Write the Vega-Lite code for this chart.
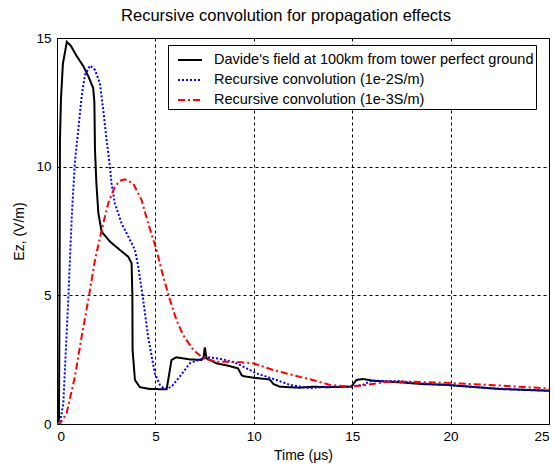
{
  "$schema": "https://vega.github.io/schema/vega-lite/v6.json",
  "width": 492,
  "height": 386,
  "autosize": {"type": "none"},
  "padding": {"left": 57, "top": 38, "right": 5, "bottom": 42},
  "background": "white",
  "title": {"text": "Recursive convolution for propagation effects", "font": "Liberation Sans", "fontSize": 16.5, "fontWeight": "normal", "color": "black", "offset": 7, "dx": -17},
  "config": {
    "view": {"stroke": "black", "strokeWidth": 1},
    "axis": {"domain": false, "ticks": false, "grid": true, "gridColor": "black", "gridDash": [3, 3], "gridOpacity": 1, "gridWidth": 1,
      "labelFont": "Liberation Sans", "labelFontSize": 13.5, "labelColor": "black", "titleFont": "Liberation Sans", "titleFontSize": 14, "titleFontWeight": "normal", "titleColor": "black"}
  },
  "datasets": {
    "curves": [
      {"s": "Davide's field at 100km from tower perfect ground", "t": 0, "v": 0},
      {"s": "Davide's field at 100km from tower perfect ground", "t": 0.1, "v": 0.2},
      {"s": "Davide's field at 100km from tower perfect ground", "t": 0.13, "v": 5},
      {"s": "Davide's field at 100km from tower perfect ground", "t": 0.15, "v": 11.0},
      {"s": "Davide's field at 100km from tower perfect ground", "t": 0.2, "v": 12.6},
      {"s": "Davide's field at 100km from tower perfect ground", "t": 0.3, "v": 14.0},
      {"s": "Davide's field at 100km from tower perfect ground", "t": 0.5, "v": 14.85},
      {"s": "Davide's field at 100km from tower perfect ground", "t": 0.7, "v": 14.7},
      {"s": "Davide's field at 100km from tower perfect ground", "t": 1.0, "v": 14.3},
      {"s": "Davide's field at 100km from tower perfect ground", "t": 1.34, "v": 13.9},
      {"s": "Davide's field at 100km from tower perfect ground", "t": 1.6, "v": 13.5},
      {"s": "Davide's field at 100km from tower perfect ground", "t": 1.84, "v": 13.05},
      {"s": "Davide's field at 100km from tower perfect ground", "t": 1.9, "v": 12.5},
      {"s": "Davide's field at 100km from tower perfect ground", "t": 1.93, "v": 10.65},
      {"s": "Davide's field at 100km from tower perfect ground", "t": 2.0, "v": 9.37},
      {"s": "Davide's field at 100km from tower perfect ground", "t": 2.1, "v": 8.2},
      {"s": "Davide's field at 100km from tower perfect ground", "t": 2.27, "v": 7.47},
      {"s": "Davide's field at 100km from tower perfect ground", "t": 2.69, "v": 7.09},
      {"s": "Davide's field at 100km from tower perfect ground", "t": 3.2, "v": 6.76},
      {"s": "Davide's field at 100km from tower perfect ground", "t": 3.62, "v": 6.5},
      {"s": "Davide's field at 100km from tower perfect ground", "t": 3.79, "v": 6.25},
      {"s": "Davide's field at 100km from tower perfect ground", "t": 3.83, "v": 5.0},
      {"s": "Davide's field at 100km from tower perfect ground", "t": 3.84, "v": 2.88},
      {"s": "Davide's field at 100km from tower perfect ground", "t": 3.96, "v": 1.71},
      {"s": "Davide's field at 100km from tower perfect ground", "t": 4.21, "v": 1.43},
      {"s": "Davide's field at 100km from tower perfect ground", "t": 4.72, "v": 1.36},
      {"s": "Davide's field at 100km from tower perfect ground", "t": 5.57, "v": 1.35},
      {"s": "Davide's field at 100km from tower perfect ground", "t": 5.65, "v": 1.71},
      {"s": "Davide's field at 100km from tower perfect ground", "t": 5.82, "v": 2.49},
      {"s": "Davide's field at 100km from tower perfect ground", "t": 6.07, "v": 2.59},
      {"s": "Davide's field at 100km from tower perfect ground", "t": 6.75, "v": 2.51},
      {"s": "Davide's field at 100km from tower perfect ground", "t": 7.34, "v": 2.49},
      {"s": "Davide's field at 100km from tower perfect ground", "t": 7.45, "v": 2.6},
      {"s": "Davide's field at 100km from tower perfect ground", "t": 7.51, "v": 2.98},
      {"s": "Davide's field at 100km from tower perfect ground", "t": 7.6, "v": 2.55},
      {"s": "Davide's field at 100km from tower perfect ground", "t": 7.77, "v": 2.49},
      {"s": "Davide's field at 100km from tower perfect ground", "t": 8.1, "v": 2.36},
      {"s": "Davide's field at 100km from tower perfect ground", "t": 8.78, "v": 2.25},
      {"s": "Davide's field at 100km from tower perfect ground", "t": 9.2, "v": 2.16},
      {"s": "Davide's field at 100km from tower perfect ground", "t": 9.38, "v": 1.9},
      {"s": "Davide's field at 100km from tower perfect ground", "t": 9.46, "v": 1.86},
      {"s": "Davide's field at 100km from tower perfect ground", "t": 9.97, "v": 1.8},
      {"s": "Davide's field at 100km from tower perfect ground", "t": 10.81, "v": 1.73},
      {"s": "Davide's field at 100km from tower perfect ground", "t": 11.0, "v": 1.55},
      {"s": "Davide's field at 100km from tower perfect ground", "t": 11.32, "v": 1.45},
      {"s": "Davide's field at 100km from tower perfect ground", "t": 12.34, "v": 1.41},
      {"s": "Davide's field at 100km from tower perfect ground", "t": 13.0, "v": 1.45},
      {"s": "Davide's field at 100km from tower perfect ground", "t": 13.69, "v": 1.43},
      {"s": "Davide's field at 100km from tower perfect ground", "t": 14.96, "v": 1.45},
      {"s": "Davide's field at 100km from tower perfect ground", "t": 15.21, "v": 1.71},
      {"s": "Davide's field at 100km from tower perfect ground", "t": 15.55, "v": 1.75},
      {"s": "Davide's field at 100km from tower perfect ground", "t": 16.06, "v": 1.68},
      {"s": "Davide's field at 100km from tower perfect ground", "t": 17.41, "v": 1.62},
      {"s": "Davide's field at 100km from tower perfect ground", "t": 18.6, "v": 1.55},
      {"s": "Davide's field at 100km from tower perfect ground", "t": 19.78, "v": 1.52},
      {"s": "Davide's field at 100km from tower perfect ground", "t": 20.97, "v": 1.45},
      {"s": "Davide's field at 100km from tower perfect ground", "t": 22.5, "v": 1.36},
      {"s": "Davide's field at 100km from tower perfect ground", "t": 25, "v": 1.29},

      {"s": "Recursive convolution (1e-2S/m)", "t": 0, "v": 0},
      {"s": "Recursive convolution (1e-2S/m)", "t": 0.15, "v": 0.04},
      {"s": "Recursive convolution (1e-2S/m)", "t": 0.32, "v": 0.8},
      {"s": "Recursive convolution (1e-2S/m)", "t": 0.57, "v": 4.8},
      {"s": "Recursive convolution (1e-2S/m)", "t": 0.75, "v": 8.06},
      {"s": "Recursive convolution (1e-2S/m)", "t": 0.91, "v": 10.2},
      {"s": "Recursive convolution (1e-2S/m)", "t": 1.08, "v": 11.43},
      {"s": "Recursive convolution (1e-2S/m)", "t": 1.25, "v": 12.72},
      {"s": "Recursive convolution (1e-2S/m)", "t": 1.42, "v": 13.56},
      {"s": "Recursive convolution (1e-2S/m)", "t": 1.68, "v": 13.93},
      {"s": "Recursive convolution (1e-2S/m)", "t": 1.93, "v": 13.76},
      {"s": "Recursive convolution (1e-2S/m)", "t": 2.18, "v": 13.24},
      {"s": "Recursive convolution (1e-2S/m)", "t": 2.35, "v": 12.2},
      {"s": "Recursive convolution (1e-2S/m)", "t": 2.52, "v": 11.04},
      {"s": "Recursive convolution (1e-2S/m)", "t": 2.69, "v": 10.0},
      {"s": "Recursive convolution (1e-2S/m)", "t": 2.77, "v": 9.35},
      {"s": "Recursive convolution (1e-2S/m)", "t": 2.94, "v": 8.57},
      {"s": "Recursive convolution (1e-2S/m)", "t": 3.28, "v": 7.8},
      {"s": "Recursive convolution (1e-2S/m)", "t": 3.71, "v": 7.15},
      {"s": "Recursive convolution (1e-2S/m)", "t": 3.96, "v": 6.76},
      {"s": "Recursive convolution (1e-2S/m)", "t": 4.13, "v": 6.11},
      {"s": "Recursive convolution (1e-2S/m)", "t": 4.38, "v": 4.82},
      {"s": "Recursive convolution (1e-2S/m)", "t": 4.63, "v": 3.39},
      {"s": "Recursive convolution (1e-2S/m)", "t": 4.97, "v": 1.97},
      {"s": "Recursive convolution (1e-2S/m)", "t": 5.23, "v": 1.52},
      {"s": "Recursive convolution (1e-2S/m)", "t": 5.48, "v": 1.35},
      {"s": "Recursive convolution (1e-2S/m)", "t": 5.82, "v": 1.45},
      {"s": "Recursive convolution (1e-2S/m)", "t": 6.24, "v": 1.84},
      {"s": "Recursive convolution (1e-2S/m)", "t": 6.75, "v": 2.36},
      {"s": "Recursive convolution (1e-2S/m)", "t": 7.26, "v": 2.51},
      {"s": "Recursive convolution (1e-2S/m)", "t": 7.77, "v": 2.59},
      {"s": "Recursive convolution (1e-2S/m)", "t": 8.44, "v": 2.51},
      {"s": "Recursive convolution (1e-2S/m)", "t": 9.12, "v": 2.36},
      {"s": "Recursive convolution (1e-2S/m)", "t": 9.46, "v": 2.23},
      {"s": "Recursive convolution (1e-2S/m)", "t": 9.8, "v": 2.1},
      {"s": "Recursive convolution (1e-2S/m)", "t": 10.13, "v": 1.97},
      {"s": "Recursive convolution (1e-2S/m)", "t": 11.15, "v": 1.71},
      {"s": "Recursive convolution (1e-2S/m)", "t": 11.83, "v": 1.52},
      {"s": "Recursive convolution (1e-2S/m)", "t": 12.84, "v": 1.39},
      {"s": "Recursive convolution (1e-2S/m)", "t": 13.69, "v": 1.45},
      {"s": "Recursive convolution (1e-2S/m)", "t": 14.87, "v": 1.45},
      {"s": "Recursive convolution (1e-2S/m)", "t": 15.55, "v": 1.52},
      {"s": "Recursive convolution (1e-2S/m)", "t": 15.97, "v": 1.68},
      {"s": "Recursive convolution (1e-2S/m)", "t": 17.41, "v": 1.67},
      {"s": "Recursive convolution (1e-2S/m)", "t": 18.6, "v": 1.57},
      {"s": "Recursive convolution (1e-2S/m)", "t": 19.78, "v": 1.52},
      {"s": "Recursive convolution (1e-2S/m)", "t": 20.97, "v": 1.45},
      {"s": "Recursive convolution (1e-2S/m)", "t": 22.5, "v": 1.37},
      {"s": "Recursive convolution (1e-2S/m)", "t": 25, "v": 1.3},

      {"s": "Recursive convolution (1e-3S/m)", "t": 0, "v": 0},
      {"s": "Recursive convolution (1e-3S/m)", "t": 0.15, "v": 0.02},
      {"s": "Recursive convolution (1e-3S/m)", "t": 0.49, "v": 0.42},
      {"s": "Recursive convolution (1e-3S/m)", "t": 0.91, "v": 1.84},
      {"s": "Recursive convolution (1e-3S/m)", "t": 1.25, "v": 3.39},
      {"s": "Recursive convolution (1e-3S/m)", "t": 1.59, "v": 4.82},
      {"s": "Recursive convolution (1e-3S/m)", "t": 1.93, "v": 6.37},
      {"s": "Recursive convolution (1e-3S/m)", "t": 2.27, "v": 7.54},
      {"s": "Recursive convolution (1e-3S/m)", "t": 2.6, "v": 8.57},
      {"s": "Recursive convolution (1e-3S/m)", "t": 2.94, "v": 9.22},
      {"s": "Recursive convolution (1e-3S/m)", "t": 3.2, "v": 9.45},
      {"s": "Recursive convolution (1e-3S/m)", "t": 3.45, "v": 9.51},
      {"s": "Recursive convolution (1e-3S/m)", "t": 3.87, "v": 9.35},
      {"s": "Recursive convolution (1e-3S/m)", "t": 4.3, "v": 8.7},
      {"s": "Recursive convolution (1e-3S/m)", "t": 4.63, "v": 7.8},
      {"s": "Recursive convolution (1e-3S/m)", "t": 5.06, "v": 6.76},
      {"s": "Recursive convolution (1e-3S/m)", "t": 5.4, "v": 5.72},
      {"s": "Recursive convolution (1e-3S/m)", "t": 5.74, "v": 4.82},
      {"s": "Recursive convolution (1e-3S/m)", "t": 6.07, "v": 4.04},
      {"s": "Recursive convolution (1e-3S/m)", "t": 6.41, "v": 3.46},
      {"s": "Recursive convolution (1e-3S/m)", "t": 6.92, "v": 2.88},
      {"s": "Recursive convolution (1e-3S/m)", "t": 7.43, "v": 2.55},
      {"s": "Recursive convolution (1e-3S/m)", "t": 8.1, "v": 2.42},
      {"s": "Recursive convolution (1e-3S/m)", "t": 8.95, "v": 2.42},
      {"s": "Recursive convolution (1e-3S/m)", "t": 9.97, "v": 2.36},
      {"s": "Recursive convolution (1e-3S/m)", "t": 10.98, "v": 2.1},
      {"s": "Recursive convolution (1e-3S/m)", "t": 12.0, "v": 1.9},
      {"s": "Recursive convolution (1e-3S/m)", "t": 13.0, "v": 1.71},
      {"s": "Recursive convolution (1e-3S/m)", "t": 13.86, "v": 1.52},
      {"s": "Recursive convolution (1e-3S/m)", "t": 14.87, "v": 1.45},
      {"s": "Recursive convolution (1e-3S/m)", "t": 15.72, "v": 1.52},
      {"s": "Recursive convolution (1e-3S/m)", "t": 16.74, "v": 1.64},
      {"s": "Recursive convolution (1e-3S/m)", "t": 18.1, "v": 1.64},
      {"s": "Recursive convolution (1e-3S/m)", "t": 19.78, "v": 1.6},
      {"s": "Recursive convolution (1e-3S/m)", "t": 21.14, "v": 1.55},
      {"s": "Recursive convolution (1e-3S/m)", "t": 22.83, "v": 1.48},
      {"s": "Recursive convolution (1e-3S/m)", "t": 25, "v": 1.38}
    ]
  },
  "data": {"name": "curves"},
  "mark": {"type": "line", "strokeWidth": 2, "clip": true},
  "encoding": {
    "x": {"field": "t", "type": "quantitative", "scale": {"domain": [0, 25], "nice": false, "zero": false}, "axis": {"values": [0, 5, 10, 15, 20, 25], "title": "Time (μs)", "labelPadding": 5, "titlePadding": 6}},
    "y": {"field": "v", "type": "quantitative", "scale": {"domain": [0, 15], "nice": false}, "axis": {"values": [0, 5, 10, 15], "title": "Ez, (V/m)", "labelPadding": 6, "titlePadding": 9}},
    "color": {"field": "s", "type": "nominal",
      "scale": {"domain": ["Davide's field at 100km from tower perfect ground", "Recursive convolution (1e-2S/m)", "Recursive convolution (1e-3S/m)"], "range": ["#000000", "#0000FF", "#FF0000"]},
      "legend": {"title": null, "orient": "none", "legendX": 111, "legendY": 7, "strokeColor": "black", "fillColor": "white", "padding": 2, "symbolType": "stroke", "symbolSize": 576, "symbolStrokeWidth": 2, "symbolOffset": 7, "labelFont": "Liberation Sans", "labelFontSize": 14.5, "labelColor": "black", "labelOffset": 11, "rowPadding": -5, "labelLimit": 400}},
    "strokeDash": {"field": "s", "type": "nominal",
      "scale": {"domain": ["Davide's field at 100km from tower perfect ground", "Recursive convolution (1e-2S/m)", "Recursive convolution (1e-3S/m)"], "range": [[1, 0], [2, 2], [7, 3, 2, 3]]}}
  }
}
